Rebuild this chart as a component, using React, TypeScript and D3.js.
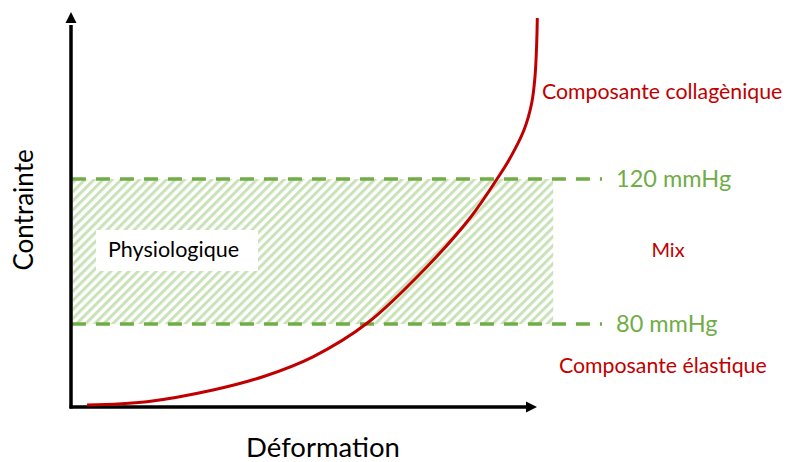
import React from "react";
import * as d3 from "d3";

// Stress–strain curve of the arterial wall (arbitrary units, 0–100)
const strain = [3.44, 16.34, 30.54, 41.29, 52.04, 63.66, 76.56, 85.81, 91.61, 94.19, 97.42, 99.08, 99.78, 100.15, 100.28];
const stress = [0.51, 1.34, 4.3, 7.67, 12.71, 21.19, 35.52, 47.85, 57.72, 62.53, 70.13, 76.96, 83.54, 92.15, 98.48];

// Physiological pressure band
const pressureLabels = ["80 mmHg", "120 mmHg"];
const pressureStress = [21.0, 57.7];
const bandStrain = [0.4, 103.7];
const dashStrain = [0.2, 114.2];

const regionLabels = ["Composante collagènique", "Mix", "Composante élastique"];
const bandLabel = "Physiologique";
const xTitle = "Déformation";
const yTitle = "Contrainte";

const W = 787;
const H = 462;
const RED = "#C00000";
const GREEN = "#70AD47";
const FONT = "Lato, 'Open Sans', sans-serif";

export default function App() {
  const x = d3.scaleLinear().domain([0, 100]).range([71, 536]);
  const y = d3.scaleLinear().domain([0, 100]).range([407, 12]);

  const pts: [number, number][] = strain.map((s, i) => [s, stress[i]]);
  const line = d3
    .line<[number, number]>()
    .x((d) => x(d[0]))
    .y((d) => y(d[1]))
    .curve(d3.curveCatmullRom.alpha(0.5));

  const yLow = y(pressureStress[0]);
  const yHigh = y(pressureStress[1]);

  return (
    <svg
      width={W}
      height={H}
      viewBox={`0 0 ${W} ${H}`}
      style={{ position: "absolute", left: 0, top: 0, background: "#fff" }}
      fontFamily={FONT}
    >
      <defs>
        <pattern
          id="hatch"
          patternUnits="userSpaceOnUse"
          width={6.4}
          height={6.4}
          patternTransform="rotate(45)"
        >
          <rect width={6.4} height={6.4} fill="#fff" />
          <rect width={3} height={6.4} fill="#C9E2B8" />
        </pattern>
      </defs>

      {/* hatched physiological band */}
      <rect
        x={x(bandStrain[0])}
        y={yHigh}
        width={x(bandStrain[1]) - x(bandStrain[0])}
        height={yLow - yHigh}
        fill="url(#hatch)"
      />

      {/* Physiologique label box */}
      <rect x={96} y={230} width={162} height={41} fill="#fff" />
      <text x={108} y={257} fontSize={21.5} fill="#000">
        {bandLabel}
      </text>

      {/* dashed pressure lines */}
      {pressureStress.map((p, i) => (
        <line
          key={i}
          x1={x(dashStrain[0])}
          x2={x(dashStrain[1])}
          y1={y(p)}
          y2={y(p)}
          stroke={GREEN}
          strokeWidth={3.5}
          strokeDasharray="14 10"
        />
      ))}
      {pressureStress.map((p, i) => (
        <text
          key={i}
          x={616}
          y={y(p)}
          dy="0.35em"
          fontSize={23.5}
          fill={GREEN}
        >
          {pressureLabels[i]}
        </text>
      ))}

      {/* axes */}
      <line x1={x(0)} y1={y(0) + 1.5} x2={x(0)} y2={y(0) - 382} stroke="#000" strokeWidth={3.5} />
      <path d={`M${x(0)},${y(0) - 395} l-5.5,11 l11,0 Z`} fill="#000" />
      <line x1={x(0) - 1.5} y1={y(0)} x2={x(0) + 455} y2={y(0)} stroke="#000" strokeWidth={3.5} />
      <path d={`M${x(0) + 466},${y(0)} l-11,-5.5 l0,11 Z`} fill="#000" />

      {/* stress-strain curve */}
      <path d={line(pts) || ""} fill="none" stroke={RED} strokeWidth={3} />

      {/* region labels */}
      <text x={542} y={99} fontSize={21.3} fill={RED}>
        {regionLabels[0]}
      </text>
      <text x={668} y={257} fontSize={20} fill={RED} textAnchor="middle">
        {regionLabels[1]}
      </text>
      <text x={559} y={373} fontSize={21.3} fill={RED}>
        {regionLabels[2]}
      </text>

      {/* axis titles */}
      <text x={323} y={457} fontSize={27.5} fill="#000" textAnchor="middle">
        {xTitle}
      </text>
      <text
        transform={`translate(33,210) rotate(-90)`}
        fontSize={26}
        fill="#000"
        textAnchor="middle"
      >
        {yTitle}
      </text>
    </svg>
  );
}
